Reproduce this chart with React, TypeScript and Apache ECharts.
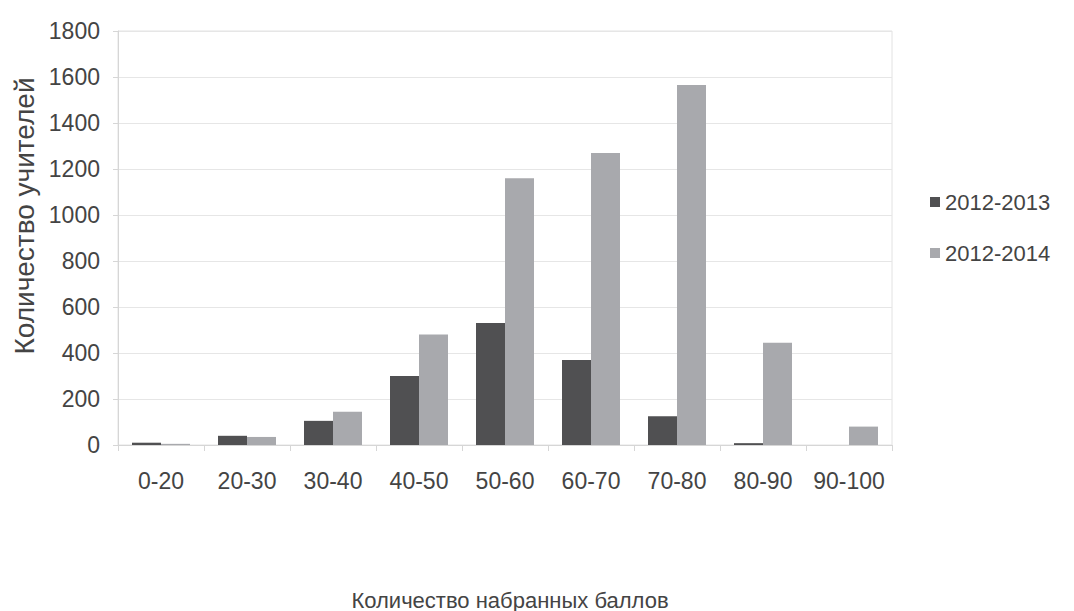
import React, { useEffect, useRef } from "react";
import * as echarts from "echarts";

const categories = ["0-20", "20-30", "30-40", "40-50", "50-60", "60-70", "70-80", "80-90", "90-100"];
const series2013 = [10, 40, 105, 300, 530, 370, 125, 8, 0];
const series2014 = [5, 35, 145, 480, 1160, 1270, 1565, 445, 80];
const seriesNames = ["2012-2013", "2012-2014"];
const yTicks = { min: 0, max: 1800, interval: 200 };
const yTitle = "Количество учителей";
const xTitle = "Количество набранных баллов";

const DARK = "#505052";
const LIGHT = "#a8a9ad";
const TEXT = "#444444";
const FONT = "'Liberation Sans', Arial, sans-serif";

export default function App() {
  const ref = useRef<HTMLDivElement>(null);

  useEffect(() => {
    document.body.style.margin = "0";
    const chart = echarts.init(ref.current!, null, { renderer: "svg" });
    chart.setOption({
      animation: false,
      backgroundColor: "#ffffff",
      textStyle: { fontFamily: FONT, color: TEXT },
      grid: {
        left: 118,
        right: 182,
        top: 31,
        bottom: 166,
        show: true,
        borderColor: "#e2e2e2",
        borderWidth: 1,
      },
      legend: {
        orient: "vertical",
        left: 925,
        top: 186,
        itemWidth: 10,
        itemHeight: 10,
        itemGap: 29,
        icon: "rect",
        textStyle: { fontSize: 22, color: TEXT, fontFamily: FONT },
        data: seriesNames,
      },
      xAxis: {
        type: "category",
        data: categories,
        boundaryGap: true,
        axisLine: { show: true, lineStyle: { color: "#d6d6d6", width: 1 } },
        axisTick: { show: true, alignWithLabel: false, interval: 0, length: 6, lineStyle: { color: "#d6d6d6" } },
        axisLabel: { interval: 0, fontSize: 23, color: TEXT, margin: 24, fontFamily: FONT },
        splitLine: { show: false },
      },
      yAxis: {
        type: "value",
        min: yTicks.min,
        max: yTicks.max,
        interval: yTicks.interval,
        axisLine: { show: true, lineStyle: { color: "#d6d6d6", width: 1 } },
        axisTick: { show: true, length: 5, lineStyle: { color: "#d6d6d6" } },
        axisLabel: {
          fontSize: 23,
          color: TEXT,
          margin: 18,
          fontFamily: FONT,
          formatter: (v: number) => String(v),
        },
        splitLine: { show: true, lineStyle: { color: "#e6e6e6", width: 1 } },
      },
      graphic: [
        {
          type: "text",
          x: 24,
          y: 216,
          rotation: Math.PI / 2,
          style: {
            text: yTitle,
            fontSize: 28,
            fontFamily: FONT,
            fill: TEXT,
            align: "center",
            verticalAlign: "middle",
          },
        },
        {
          type: "text",
          x: 510,
          y: 600,
          style: {
            text: xTitle,
            fontSize: 22,
            fontFamily: FONT,
            fill: TEXT,
            align: "center",
            verticalAlign: "middle",
          },
        },
      ],
      series: [
        {
          name: seriesNames[0],
          type: "bar",
          data: series2013,
          barWidth: 29,
          barGap: "0%",
          itemStyle: { color: DARK },
        },
        {
          name: seriesNames[1],
          type: "bar",
          data: series2014,
          barWidth: 29,
          barGap: "0%",
          itemStyle: { color: LIGHT },
        },
      ],
    });
    return () => chart.dispose();
  }, []);

  return (
    <div
      ref={ref}
      style={{ position: "fixed", left: 0, top: 0, width: 1074, height: 611 }}
    />
  );
}
